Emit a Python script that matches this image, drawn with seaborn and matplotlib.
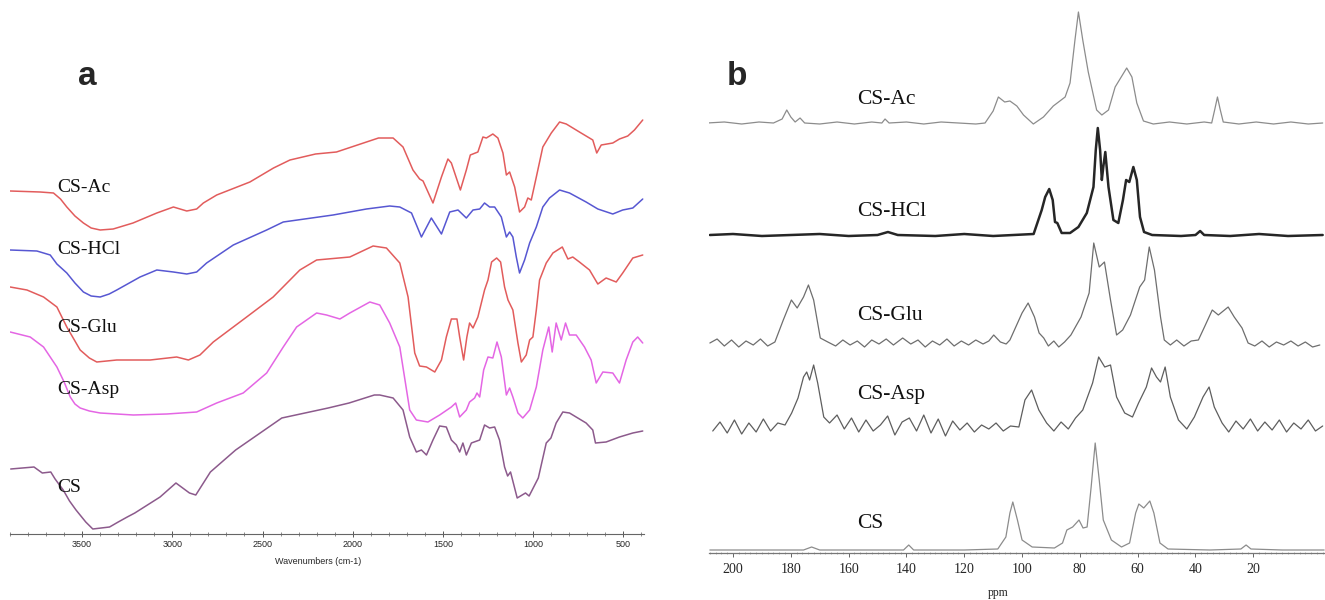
import matplotlib
matplotlib.use("Agg")
import matplotlib.pyplot as plt
import seaborn as sns
from matplotlib.ticker import FixedLocator, MultipleLocator

sns.set_theme(style="white")
plt.rcParams["font.family"] = ["Liberation Serif", "DejaVu Serif"]

# ---------------- FTIR spectra (wavenumber cm-1, stacked transmittance a.u.) ----------------
ftir_ac = [(3899, 343), (3733, 342), (3659, 341), (3620, 335), (3585, 327), (3540, 318), (3493, 311),
           (3450, 306), (3400, 304), (3328, 305),
           (3218, 311), (3086, 321), (2994, 327), (2920, 323), (2865, 325), (2828, 331), (2754, 339),
           (2570, 352), (2439, 366), (2348, 374), (2206, 380), (2090, 382), (1857, 396), (1776, 396),
           (1721, 387), (1666, 364), (1629, 355), (1610, 353), (1555, 331), (1508, 357), (1472, 375),
           (1453, 371), (1403, 344), (1370, 364), (1348, 379), (1306, 382), (1278, 397), (1259, 396),
           (1223, 400), (1195, 396), (1167, 381), (1148, 359), (1130, 362), (1102, 347), (1075, 322),
           (1047, 327), (1029, 336), (1010, 334), (982, 357), (946, 387), (899, 401), (853, 412),
           (816, 410), (743, 402), (669, 394), (647, 381), (622, 389), (558, 391), (521, 395),
           (475, 398), (438, 404), (392, 414)]
ftir_hcl = [(3899, 284), (3751, 283), (3677, 279), (3640, 270), (3585, 261), (3540, 251), (3493, 242),
            (3450, 238), (3400, 237), (3350, 240), (3308, 244),
            (3179, 257), (3086, 264), (2994, 262), (2920, 260), (2865, 262), (2810, 271), (2662, 289),
            (2477, 304), (2385, 312), (2109, 319), (1924, 325), (1795, 328), (1739, 327), (1674, 321),
            (1619, 297), (1564, 316), (1508, 300), (1462, 322), (1416, 324), (1370, 316), (1333, 324),
            (1296, 325), (1269, 331), (1241, 327), (1213, 327), (1176, 317), (1148, 297), (1130, 302),
            (1112, 297), (1093, 277), (1075, 261), (1047, 274), (1019, 291), (982, 307), (946, 327),
            (909, 336), (853, 344), (798, 341), (706, 332), (641, 325), (558, 320), (503, 324),
            (447, 326), (392, 335)]
ftir_glu = [(3899, 247), (3806, 244), (3714, 237), (3640, 227), (3585, 207), (3511, 184), (3460, 176),
            (3419, 172),
            (3308, 174), (3123, 174), (2976, 177), (2911, 174), (2847, 179), (2773, 192), (2588, 217),
            (2441, 237), (2293, 264), (2200, 274), (2016, 277), (1887, 288), (1813, 286), (1739, 271),
            (1693, 237), (1656, 181), (1629, 168), (1591, 167), (1545, 162), (1508, 174), (1481, 197),
            (1453, 215), (1422, 215), (1407, 197), (1385, 174), (1367, 197), (1352, 211), (1333, 206),
            (1306, 217), (1269, 244), (1250, 254), (1230, 272), (1202, 276), (1180, 272), (1158, 247),
            (1139, 234), (1112, 224), (1084, 191), (1065, 172), (1038, 179), (1019, 194), (1001, 197),
            (982, 224), (964, 254), (927, 271), (890, 281), (838, 287), (807, 275), (780, 277),
            (743, 272), (687, 264), (641, 250), (595, 256), (539, 252), (503, 261), (447, 276),
            (392, 279)]
ftir_asp = [(3899, 202), (3788, 197), (3714, 187), (3640, 167), (3600, 152), (3566, 137), (3540, 130),
            (3511, 126), (3460, 123), (3400, 121),
            (3216, 119), (3031, 120), (2865, 122), (2754, 131), (2607, 141), (2477, 161), (2385, 187),
            (2311, 207), (2200, 221), (2145, 219), (2071, 215), (2016, 221), (1905, 232), (1850, 229),
            (1795, 211), (1739, 187), (1684, 124), (1647, 114), (1583, 112), (1518, 119), (1453, 127),
            (1429, 131), (1407, 117), (1370, 124), (1352, 132), (1324, 136), (1311, 141), (1296, 137),
            (1274, 164), (1250, 177), (1223, 176), (1200, 192), (1176, 177), (1148, 139), (1130, 146),
            (1112, 137), (1084, 121), (1057, 116), (1019, 124), (982, 147), (946, 184), (913, 207),
            (894, 182), (872, 211), (844, 194), (820, 211), (798, 199), (761, 199), (715, 187),
            (678, 174), (650, 151), (613, 162), (558, 161), (521, 151), (484, 174), (447, 192),
            (420, 197), (392, 191)]
ftir_cs = [(3896, 65), (3767, 67), (3721, 61), (3674, 62), (3650, 55), (3605, 44), (3570, 33),
           (3534, 24), (3480, 12), (3441, 5), (3348, 7), (3300, 12), (3250, 17),
           (3208, 21), (3068, 37), (2980, 51), (2905, 41), (2870, 39), (2789, 62), (2649, 84),
           (2393, 116), (2136, 126), (2020, 131), (1880, 139), (1850, 139), (1776, 136), (1721, 124),
           (1684, 97), (1647, 82), (1619, 84), (1591, 79), (1555, 94), (1518, 108), (1481, 107),
           (1453, 94), (1425, 89), (1407, 82), (1389, 91), (1370, 79), (1342, 91), (1296, 94),
           (1269, 109), (1241, 106), (1213, 107), (1186, 94), (1158, 67), (1141, 58), (1125, 62),
           (1088, 36), (1042, 41), (1022, 38), (971, 56), (927, 91), (901, 96), (872, 111), (835, 122),
           (798, 121), (706, 111), (669, 104), (654, 91), (595, 92), (521, 97), (447, 101), (392, 103)]

ftir_names = ["CS-Ac", "CS-HCl", "CS-Glu", "CS-Asp", "CS"]
ftir_colors = ["#e25c5c", "#5757d2", "#e25c5c", "#e466e4", "#8c5a8c"]
ftir_label_y = [346, 284, 207, 144, 47]
ftir_ticks = [3500, 3000, 2500, 2000, 1500, 1000, 500]

# ---------------- 13C CP/MAS NMR spectra (ppm, stacked intensity a.u.) ----------------
nmr_ac = [(209, 430), (203, 431), (197, 429), (191, 431), (186, 430), (183, 434), (181.4, 443), (180, 436),
          (178.5, 431), (176.8, 435), (175.2, 430), (170, 429), (164, 431), (158, 429), (152, 431),
          (148.5, 430), (147.4, 434), (146, 430), (140, 431), (134, 429), (128, 431), (122, 430),
          (116, 429), (112.8, 430), (110, 442), (108.2, 456), (106, 451), (104.2, 452), (101.8, 447),
          (99.5, 438), (96.1, 429), (92.6, 436), (89.2, 447), (85.1, 456), (83.4, 470), (81.7, 513),
          (80.5, 541), (79, 513), (77.1, 481), (74.2, 443), (72.4, 438), (70.1, 443), (67.8, 466),
          (63.8, 485), (62, 476), (60.3, 450), (58, 432), (54.6, 429), (49, 431), (43, 429), (37, 431),
          (34.4, 430), (33.3, 444), (32.4, 456), (31.5, 444), (30.4, 431), (25, 429), (19, 431),
          (13, 429), (7, 431), (1, 429), (-4, 430)]
nmr_hcl = [(208, 318), (200, 319), (190, 317), (180, 318), (170, 319), (160, 317), (150, 318),
           (146.4, 321), (143, 318), (130, 317), (120, 319), (110, 317), (96, 319), (93.2, 343),
           (92, 356), (90.6, 364), (89.4, 353), (88.6, 331), (87.8, 330), (86.3, 320), (83.4, 320),
           (80.5, 326), (77.6, 340), (75.3, 366), (74.5, 403), (73.8, 425), (73, 403), (72.4, 373),
           (71.9, 386), (71.2, 401), (70.1, 366), (68.4, 333), (66.7, 330), (65.1, 353), (64, 373),
           (62.9, 371), (61.5, 386), (60.3, 373), (59.2, 336), (57.8, 321), (55, 318), (45, 317),
           (40, 318), (38.4, 322), (37, 318), (28, 317), (18, 319), (8, 317), (-4, 318)]
nmr_glu = [(208, 210), (205.5, 214), (203, 207), (200.5, 213), (198, 206), (195.5, 212), (193, 208),
           (190.5, 214), (188, 207), (185.5, 211), (182.6, 233), (179.8, 253), (177.8, 245),
           (175.6, 256), (173.9, 268), (172.1, 253), (169.8, 215), (167.2, 211), (164.5, 207),
           (162, 213), (159.5, 208), (157, 212), (154.5, 206), (152, 213), (149.5, 209), (147, 214),
           (144.5, 208), (141.3, 215), (138.5, 209), (136, 213), (133.5, 206), (131, 212), (128.5, 208),
           (126, 214), (123.5, 207), (121, 212), (118.5, 208), (116, 213), (113.5, 209), (111.5, 212),
           (109.8, 218), (107.5, 211), (105.5, 209), (104.2, 213), (102.8, 222), (100, 240),
           (97.9, 250), (95.7, 236), (94.1, 220), (92.5, 215), (90.9, 207), (89, 212), (87.3, 206),
           (85.3, 211), (83.1, 218), (79.6, 236), (76.8, 260), (75.2, 310), (73.3, 286), (71.5, 291),
           (69.4, 253), (67.3, 218), (65.2, 223), (62.5, 238), (59.3, 266), (57.6, 273), (56, 306),
           (54.2, 283), (52.1, 236), (50.8, 213), (48.7, 208), (46.5, 213), (44, 207), (41.5, 212),
           (39, 213), (36.9, 226), (34.2, 243), (32.1, 238), (28.7, 246), (26.6, 236), (23.9, 225),
           (21.8, 210), (19.5, 207), (17, 212), (14.5, 206), (12, 211), (9.5, 208), (7, 212),
           (4.5, 207), (2, 211), (-0.5, 206), (-3, 208)]
nmr_asp = [(207, 122), (204.5, 131), (202, 120), (199.5, 133), (197, 119), (194.5, 130), (192, 121),
           (189.5, 134), (187, 122), (184.5, 130), (182, 128), (179.7, 140), (177.5, 155),
           (175.6, 176), (174.5, 181), (173.5, 173), (172.1, 188), (170.7, 170), (168.6, 136),
           (166.6, 130), (164, 138), (161.5, 124), (159, 135), (156.5, 121), (154, 133), (151.5, 122),
           (149, 128), (146.5, 137), (144, 118), (141.5, 131), (139, 135), (136.5, 122), (134, 138),
           (131.5, 120), (129, 134), (126.5, 117), (124, 132), (121.5, 123), (119, 130), (116.5, 121),
           (114, 128), (111.5, 124), (109, 130), (106.5, 122), (104, 127), (101.1, 126), (99, 153),
           (96.7, 163), (94.2, 143), (91.5, 130), (89, 122), (86.5, 131), (84, 124), (81.5, 135),
           (79, 143), (75.6, 170), (73.5, 196), (71.4, 186), (69.4, 188), (67.3, 156), (64.5, 140),
           (61.8, 136), (59.7, 150), (57, 166), (55.2, 185), (53.5, 176), (52.1, 171), (50.5, 186),
           (48.7, 156), (45.9, 133), (43, 124), (40.4, 136), (37.4, 156), (35.3, 166), (33.5, 146),
           (30.8, 130), (28.5, 121), (26, 132), (23.5, 124), (21, 134), (18.5, 122), (16, 131),
           (13.5, 123), (11, 133), (8.5, 121), (6, 130), (3.5, 124), (1, 133), (-1.5, 122), (-4, 127)]
nmr_cs = [(208, 3), (190, 3), (175.6, 3), (172.8, 6), (170, 3), (150, 3), (141, 3), (139.2, 8),
          (137.5, 3), (120, 3), (108.4, 4), (105.6, 16), (104.2, 40), (103.2, 51), (101.6, 33),
          (100, 13), (96.5, 6), (88.8, 5), (86, 10), (84.5, 23), (82.5, 26), (80.3, 33), (78.9, 25),
          (77.5, 26), (76.1, 66), (74.7, 110), (73.3, 73), (71.9, 33), (69.1, 13), (65.6, 6),
          (62.8, 10), (60.7, 40), (59.6, 49), (57.9, 45), (55.8, 52), (54.4, 40), (52.3, 10),
          (49.5, 4), (35, 3), (24.3, 4), (22.5, 8), (20.8, 4), (10, 3), (-4.5, 3)]

nmr_names = ["CS-Ac", "CS-HCl", "CS-Glu", "CS-Asp", "CS"]
nmr_colors = ["#8c8c8c", "#262626", "#6e6e6e", "#5e5e5e", "#8c8c8c"]
nmr_widths = [0.9, 1.8, 0.9, 0.9, 0.9]
nmr_label_y = [453, 342, 237, 159, 30]
nmr_ticks = [200, 180, 160, 140, 120, 100, 80, 60, 40, 20]

W, H = 1325, 600
fig = plt.figure(figsize=(W / 100, H / 100), dpi=100)
fig.patch.set_facecolor("white")

# ---- panel a: FTIR ----
ax_a = fig.add_axes([10 / W, (H - 534) / H, 634 / W, 434 / H])
for pts, col in zip([ftir_ac, ftir_hcl, ftir_glu, ftir_asp, ftir_cs], ftir_colors):
    xs, ys = zip(*pts)
    sns.lineplot(x=list(xs), y=list(ys), ax=ax_a, color=col, linewidth=1.1,
                 estimator=None, sort=False)
for name, ly in zip(ftir_names, ftir_label_y):
    ax_a.text(3638, ly, name, fontsize=14, ha="left", va="center", color="#111111")
ax_a.set_xlim(3900, 385)
ax_a.set_ylim(0, 434)
ax_a.set_yticks([])
ax_a.set_ylabel("")
for s in ["left", "right", "top"]:
    ax_a.spines[s].set_visible(False)
ax_a.spines["bottom"].set_color("#666666")
ax_a.spines["bottom"].set_linewidth(0.8)
ax_a.xaxis.set_major_locator(FixedLocator(ftir_ticks))
ax_a.xaxis.set_minor_locator(MultipleLocator(100))
ax_a.tick_params(axis="x", which="major", direction="inout", length=4, width=0.7,
                 color="#555555", pad=2, labelsize=6.5, bottom=True)
ax_a.tick_params(axis="x", which="minor", direction="inout", length=3, width=0.6,
                 color="#777777", bottom=True)
for lab in ax_a.get_xticklabels():
    lab.set_fontfamily("Liberation Sans")
ax_a.set_xlabel("Wavenumbers (cm-1)", fontsize=6.5, fontfamily="Liberation Sans")
ax_a.xaxis.set_label_coords(0.486, -0.052)

# ---- panel b: 13C NMR ----
ax_b = fig.add_axes([709 / W, (H - 553) / H, 616 / W, 553 / H])
for pts, col, lw in zip([nmr_ac, nmr_hcl, nmr_glu, nmr_asp, nmr_cs], nmr_colors, nmr_widths):
    xs, ys = zip(*pts)
    sns.lineplot(x=list(xs), y=list(ys), ax=ax_b, color=col, linewidth=lw,
                 estimator=None, sort=False)
for name, ly in zip(nmr_names, nmr_label_y):
    ax_b.text(157, ly, name, fontsize=15.5, ha="left", va="center", color="#111111")
ax_b.set_xlim(208.3, -4.8)
ax_b.set_ylim(0, 553)
ax_b.set_yticks([])
ax_b.set_ylabel("")
for s in ["left", "right", "top"]:
    ax_b.spines[s].set_visible(False)
ax_b.spines["bottom"].set_color("#777777")
ax_b.spines["bottom"].set_linewidth(0.9)
ax_b.xaxis.set_major_locator(FixedLocator(nmr_ticks))
ax_b.xaxis.set_minor_locator(MultipleLocator(2))
ax_b.tick_params(axis="x", which="major", direction="out", length=3, width=0.7,
                 color="#666666", pad=4, labelsize=10, bottom=True)
ax_b.tick_params(axis="x", which="minor", direction="inout", length=2, width=0.5,
                 color="#999999", bottom=True)
ax_b.set_xlabel("ppm", fontsize=8.5)
ax_b.xaxis.set_label_coords(0.469, -0.062)

# panel letters
fig.text(78 / W, 1 - 85 / H, "a", fontsize=24, fontweight="bold",
         fontfamily="Liberation Sans", ha="left", va="baseline")
fig.text(727 / W, 1 - 85 / H, "b", fontsize=24, fontweight="bold",
         fontfamily="Liberation Sans", ha="left", va="baseline")

fig.savefig("out.png", dpi=100, facecolor="white")
